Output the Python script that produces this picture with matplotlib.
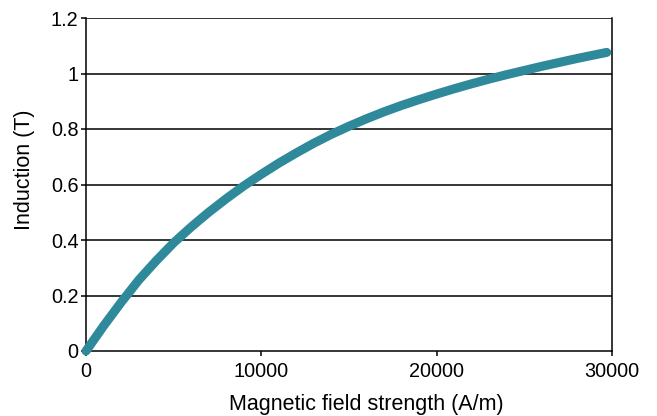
import matplotlib
matplotlib.use("Agg")
import matplotlib.pyplot as plt

plt.rcParams['font.family'] = ['Liberation Sans', 'DejaVu Sans']

field_strength = [0, 1000, 2000, 3000, 4000, 5000, 6000, 7000, 8000, 9000, 10000,
                  11000, 12000, 13000, 14000, 15000, 16000, 17000, 18000, 19000, 20000,
                  21000, 22000, 23000, 24000, 25000, 26000, 27000, 28000, 29000, 29700]
induction = [0, 0.09, 0.175, 0.255, 0.325, 0.39, 0.447, 0.50, 0.549, 0.595, 0.637,
             0.677, 0.714, 0.749, 0.781, 0.810, 0.837, 0.862, 0.885, 0.906, 0.926,
             0.945, 0.963, 0.980, 0.996, 1.011, 1.026, 1.040, 1.054, 1.067, 1.076]

x_ticks = [0, 10000, 20000, 30000]
y_ticks = [0, 0.2, 0.4, 0.6, 0.8, 1.0, 1.2]
y_labels = ['0', '0.2', '0.4', '0.6', '0.8', '1', '1.2']

fig = plt.figure(figsize=(6.57, 4.16), dpi=100)
ax = fig.add_axes([86/657, 65/416, (612-86)/657, (351-18)/416])

for y in y_ticks[1:]:
    ax.axhline(y, color='black', lw=1.1, zorder=1)

ax.plot(field_strength, induction, color='#2E8A9A', lw=6.5,
        solid_capstyle='round', solid_joinstyle='round', clip_on=False, zorder=3)

ax.set_xlim(0, 30000)
ax.set_ylim(0, 1.2)
ax.set_xticks(x_ticks)
ax.set_xticklabels([str(t) for t in x_ticks])
ax.set_yticks(y_ticks)
ax.set_yticklabels(y_labels)

for s in ['left', 'right', 'bottom']:
    ax.spines[s].set_color('black')
    ax.spines[s].set_linewidth(1.1)
ax.spines['top'].set_visible(False)

ax.tick_params(axis='both', direction='out', length=3.6, width=1.1, labelsize=14.3, colors='black')
ax.tick_params(axis='x', pad=4)
ax.tick_params(axis='y', pad=1.8)

ax.set_xlabel('Magnetic field strength (A/m)', fontsize=15.5)
ax.set_ylabel('Induction (T)', fontsize=15.5)
ax.xaxis.set_label_coords((366 - 86) / 526, (351 - 394) / 333)
ax.yaxis.set_label_coords((35 - 86) / 526, (351 - 169.5) / 333)

fig.savefig('out.png', dpi=100)
